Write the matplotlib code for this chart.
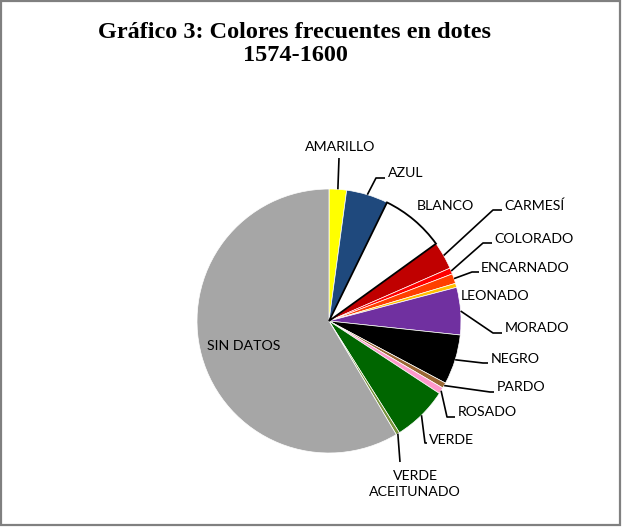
import numpy as np
import matplotlib
matplotlib.use("Agg")
import matplotlib.pyplot as plt
from matplotlib.patches import Rectangle

# ---- data ----
categories = ["AMARILLO", "AZUL", "BLANCO", "CARMESÍ", "COLORADO", "ENCARNADO",
              "LEONADO", "MORADO", "NEGRO", "PARDO", "ROSADO", "VERDE",
              "VERDE\nACEITUNADO", "SIN DATOS"]
values = [2.14, 5.1, 7.8, 3.4, 0.75, 1.2, 0.5, 5.8, 6.1, 0.67, 0.78, 6.8, 0.44, 58.5]
colors = ["#FFFF00", "#1F497D", "#FFFFFF", "#C00000", "#FF0000", "#FF3F00",
          "#FFC000", "#7030A0", "#000000", "#996633", "#FF99CC", "#006600",
          "#77933C", "#A6A6A6"]
title = "Gráfico 3: Colores frecuentes en dotes\n1574-1600"

# ---- layout (pixel positions, y measured from top) ----
W, H = 622, 527
cx, cy, R = 329, 321, 132
label_pos = [
    (340, 147, "center"), (388, 173, "left"), (417, 206, "left"), (504, 206, "left"),
    (494, 239, "left"), (481, 268, "left"), (461, 296, "left"), (505, 328, "left"),
    (491, 359, "left"), (497, 387, "left"), (458, 412, "left"), (429, 440, "left"),
    (415, 484, "center"), (207, 346, "left"),
]
leaders = [
    [(339, 158)], [(376, 178), (385, 178)], None, [(493, 210), (502, 210)],
    [(483, 243), (492, 243)], [(472, 272), (479, 272)], None, [(493, 333), (502, 333)],
    [(483, 363), (488, 363)], [(490, 392), (494, 392)], [(447, 417), (455, 417)],
    [(425, 443), (427, 443)], [(400, 462)], None,
]

fig = plt.figure(figsize=(W / 100, H / 100), dpi=100)
ax = fig.add_axes([0, 0, 1, 1])

wedges, _ = ax.pie(values, colors=colors, startangle=90, counterclock=False,
                   center=(cx, H - cy), radius=R,
                   wedgeprops=dict(edgecolor="white", linewidth=0.5))
wedges[2].set_edgecolor("black")
wedges[2].set_linewidth(1.3)
wedges[2].set_zorder(3)

ax.set_xlim(0, W)
ax.set_ylim(0, H)
ax.set_aspect("equal")
ax.axis("off")

font = ["Lato", "DejaVu Sans"]
for w, lab, pos, ld in zip(wedges, categories, label_pos, leaders):
    x, y, ha = pos
    ax.text(x, H - y, lab, ha=ha, va="center", fontsize=10.2, family=font,
            color="black", linespacing=1.3)
    if ld:
        mid = np.deg2rad((w.theta1 + w.theta2) / 2)
        sx = cx + R * np.cos(mid)
        sy = (H - cy) + R * np.sin(mid)
        xs = [sx] + [p[0] for p in ld]
        ys = [sy] + [H - p[1] for p in ld]
        ax.plot(xs, ys, color="black", lw=1.2, solid_capstyle="butt", zorder=4)

fig.text(295 / W, 1 - 44 / H, title, ha="center", va="center", fontsize=17.5,
         fontweight="bold", family=["Liberation Serif", "DejaVu Serif"], linespacing=1.1)

fig.patches.append(Rectangle((0.5 / W, 0.5 / H + 2 / H), 1 - 2.5 / W, 1 - 3 / H,
                             transform=fig.transFigure, fill=False,
                             edgecolor="#808080", linewidth=1.6))

fig.savefig("out.png", dpi=100, facecolor="white")
